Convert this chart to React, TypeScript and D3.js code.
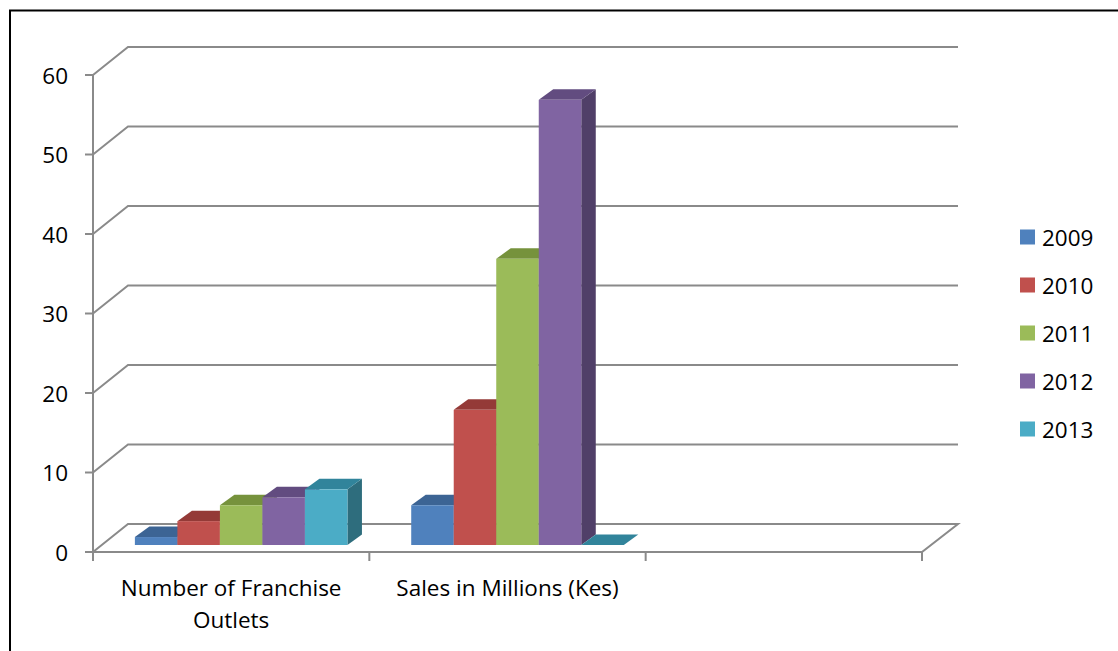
import React from "react";
import * as d3 from "d3";

const categories = ["Number of Franchise Outlets", "Sales in Millions (Kes)", ""];
const seriesNames = ["2009", "2010", "2011", "2012", "2013"];
const values2009 = [1, 5];
const values2010 = [3, 17];
const values2011 = [5, 36];
const values2012 = [6, 56];
const values2013 = [7, 0];
const seriesValues = [values2009, values2010, values2011, values2012, values2013];
const yTicks = [0, 10, 20, 30, 40, 50, 60];

const frontColors = ["#4F81BD", "#C0504D", "#9BBB59", "#8064A2", "#4BACC6"];
const topColors = ["#3C6494", "#943A37", "#76923C", "#624C80", "#31849B"];
const sideColors = ["#36567f", "#7f302e", "#63793a", "#503f68", "#2e6d7d"];

const W = 1118;
const H = 651;
const FONT = "'Open Sans', sans-serif";
const FS = 22.5;

// projection offsets
const BACK_DX = 35, BACK_DY = -28;
const BAR_DX = 10, BAR_DY = -7;
const DEP_DX = 14.5, DEP_DY = -10.5;

function wrapLabel(text: string, maxW: number): string[] {
  if (!text) return [];
  const canvas = document.createElement("canvas");
  const ctx = canvas.getContext("2d")!;
  ctx.font = `${FS}px 'Open Sans'`;
  const words = text.split(" ");
  const lines: string[] = [];
  let cur = "";
  for (const w of words) {
    const t = cur ? cur + " " + w : w;
    if (ctx.measureText(t).width > maxW && cur) {
      lines.push(cur);
      cur = w;
    } else cur = t;
  }
  if (cur) lines.push(cur);
  return lines;
}

export default function App() {
  const x = d3.scaleBand<string>().domain(categories.map((c, i) => String(i))).range([93, 922]).padding(0);
  const inner = d3.scaleBand<string>().domain(seriesNames).range([0, x.bandwidth()]).paddingInner(0).paddingOuter(0.75);
  const y = d3.scaleLinear().domain([0, 60]).range([552, 75]);
  const gridColor = "#8a8a8a";
  const y0 = y(0);

  const bars: React.ReactNode[] = [];
  categories.forEach((c, ci) => {
    seriesNames.forEach((s, si) => {
      const v = seriesValues[si][ci];
      if (v === undefined) return;
      const xl = (x(String(ci)) as number) + (inner(s) as number) + BAR_DX;
      const w = inner.bandwidth();
      const yb = y0 + BAR_DY;
      const yt = y(v) + BAR_DY;
      const xr = xl + w;
      const front = v > 0 ? <rect x={xl} y={yt} width={w} height={yb - yt} fill={frontColors[si]} /> : null;
      const top = `M${xl},${yt}L${xr},${yt}L${xr + DEP_DX},${yt + DEP_DY}L${xl + DEP_DX},${yt + DEP_DY}Z`;
      const side = `M${xr},${yt}L${xr + DEP_DX},${yt + DEP_DY}L${xr + DEP_DX},${yb + DEP_DY}L${xr},${yb}Z`;
      bars.push(
        <g key={`${ci}-${si}`}>
          {v > 0 && <path d={side} fill={sideColors[si]} />}
          <path d={top} fill={topColors[si]} />
          {front}
        </g>
      );
    });
  });

  const xL = 93, xR = 922;
  return (
    <svg width={W} height={H} style={{ position: "fixed", left: 0, top: 0, background: "#fff" }} fontFamily={FONT}>
      <rect x={0} y={0} width={W} height={H} fill="#fff" />
      {/* frame */}
      <path d={`M10,${H + 5}L10,10.5L${W + 5},10.5`} fill="none" stroke="#000" strokeWidth={2} />
      {/* gridlines (back wall + side wall) */}
      {yTicks.filter((t) => t > 0).map((t) => (
        <path key={t} d={`M${xL},${y(t)}L${xL + BACK_DX},${y(t) + BACK_DY}L${xR + BACK_DX + 1},${y(t) + BACK_DY}`} fill="none" stroke={gridColor} strokeWidth={2} />
      ))}
      {/* floor */}
      <path d={`M${xL},${y0}L${xL + BACK_DX},${y0 + BACK_DY}L${xR + BACK_DX + 1},${y0 + BACK_DY}L${xR},${y0}Z`} fill="none" stroke={gridColor} strokeWidth={2} />
      {/* y axis */}
      <line x1={xL} x2={xL} y1={y(60)} y2={y0} stroke={gridColor} strokeWidth={2} />
      {yTicks.map((t) => (
        <g key={t}>
          <line x1={xL - 8} x2={xL} y1={y(t)} y2={y(t)} stroke={gridColor} strokeWidth={2} />
          <text x={68} y={y(t)} textAnchor="end" dominantBaseline="central" fontSize={FS} fill="#000">{t}</text>
        </g>
      ))}
      {/* x axis ticks */}
      {d3.range(categories.length + 1).map((i) => {
        const xx = xL + i * x.step();
        return <line key={i} x1={xx} x2={xx} y1={y0} y2={y0 + 9} stroke={gridColor} strokeWidth={2} />;
      })}
      {bars}
      {/* category labels */}
      {categories.map((c, ci) => {
        const lines = wrapLabel(c, 262);
        const cx = (x(String(ci)) as number) + x.bandwidth() / 2;
        return (
          <text key={ci} x={cx} textAnchor="middle" fontSize={FS} fill="#000">
            {lines.map((l, li) => (
              <tspan key={li} x={cx} y={596 + li * 32}>{l}</tspan>
            ))}
          </text>
        );
      })}
      {/* legend */}
      {seriesNames.map((s, si) => (
        <g key={s} transform={`translate(1020, ${237 + si * 48})`}>
          <rect x={0} y={-7.5} width={15} height={15} fill={frontColors[si]} />
          <text x={22} y={0} dominantBaseline="central" fontSize={FS} fill="#000">{s}</text>
        </g>
      ))}
    </svg>
  );
}
